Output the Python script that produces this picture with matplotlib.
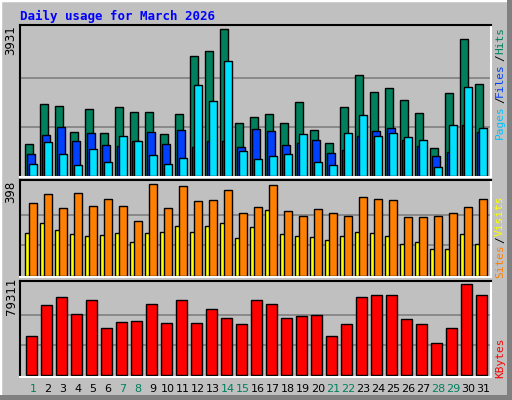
import matplotlib
matplotlib.use("Agg")
import matplotlib.pyplot as plt
from matplotlib.patches import Rectangle
import numpy as np

days = list(range(1, 32))
weekend = [1, 7, 8, 14, 15, 21, 22, 28, 29]
hits = [856,1925,1872,1177,1792,1150,1845,1711,1711,1123,1658,3209,3343,3931,1417,1586,1658,1417,1979,1230,882,1845,2701,2246,2353,2032,1685,749,2219,3663,2460]
files = [588,1096,1310,936,1150,829,802,936,1177,856,1230,775,936,936,775,1257,1203,829,882,963,615,695,1070,1203,1284,963,802,535,642,1364,1177]
pages = [321,909,588,294,722,374,1070,936,562,321,481,2433,2006,3075,669,455,535,588,1123,374,294,1150,1631,1070,1150,1043,963,241,1364,2380,1284]
visits = [316,355,294,359,302,333,302,237,398,294,389,324,329,372,272,298,394,281,259,289,272,259,342,333,329,255,255,259,272,298,333]
sites = [185,229,198,181,172,177,185,146,185,190,216,190,216,229,164,211,285,181,172,168,155,172,190,185,172,138,146,116,116,181,138]
kbytes = [33989,61005,67977,53162,65363,40961,46190,47061,61877,45318,65363,45318,57519,49676,44447,65363,61877,49676,51419,52290,33989,44447,67977,69720,69720,48804,44447,27888,40961,79311,69720]

BG = "#C0C0C0"
W, H = 512, 400
fig = plt.figure(figsize=(5.12, 4.0), dpi=100, facecolor=BG)

def px_axes(l, t, r, b):
    return fig.add_axes([l / W, 1 - b / H, (r - l) / W, (b - t) / H])

# outer bevel
fig.patches.append(Rectangle((0, 0), 1, 1, transform=fig.transFigure, fill=False, ec="white", lw=2.5))
fig.patches.append(Rectangle((W - 4) / W, 0, 4 / W, 1, transform=fig.transFigure, fc="#808080", ec="none") if False else Rectangle(((W - 5) / W, 0), 5 / W, 1, transform=fig.transFigure, fc="#808080", ec="none"))
fig.patches.append(Rectangle((0, 0), 1, 5 / H, transform=fig.transFigure, fc="#808080", ec="none"))

x = np.array(days)
bw = 8 / 15
xl = (0.153, 31.51)

def style(ax, ylim, mx):
    ax.set_facecolor(BG)
    ax.set_xlim(*xl)
    ax.set_ylim(*ylim)
    for f in (1 / 3, 2 / 3):
        ax.axhline(mx * f, color="#808080", lw=1.2, zorder=0)
    ax.set_xticks([]); ax.set_yticks([])
    for s in ("top", "left"):
        ax.spines[s].set_color("black"); ax.spines[s].set_linewidth(1.5)
    for s in ("bottom", "right"):
        ax.spines[s].set_color("white"); ax.spines[s].set_linewidth(1.5)

kw = dict(edgecolor="black", linewidth=1.0, align="edge", zorder=2)

ax1 = px_axes(20.3, 25, 490.7, 177)
style(ax1, (-27, 4038), max(hits))
ax1.bar(x - 0.53, hits, bw, color="#00805C", **kw)
ax1.bar(x - 0.40, files, bw, color="#0040FF", **kw)
ax1.bar(x - 0.27, pages, bw, color="#00E0FF", **kw)

ax2 = px_axes(20.3, 180, 490.7, 277)
style(ax2, (-4.3, 417), max(visits))
ax2.bar(x - 0.53, sites, bw, color="#FFFF00", **kw)
ax2.bar(x - 0.25, visits, bw, color="#FF8000", **kw)

ax3 = px_axes(20.3, 281, 490.7, 376.5)
style(ax3, (-1046, 82183), max(kbytes))
ax3.bar(x - 0.46, kbytes, 10.4 / 15, color="#FF0000", **kw)

def ft(xp, yp, s, **k):
    fig.text(xp / W, 1 - yp / H, s, **k)

ft(20, 16, "Daily usage for March 2026", color="#0000FF", family="DejaVu Sans Mono",
   weight="bold", fontsize=9, va="center", ha="left")

ft(11, 40, str(max(hits)), rotation=90, fontsize=8.5, ha="center", va="center")
ft(11, 192, str(max(visits)), rotation=90, fontsize=8.5, ha="center", va="center")
ft(11, 296, str(max(kbytes)), rotation=90, fontsize=8.5, ha="center", va="center")

rk = dict(rotation=90, fontsize=8, family="DejaVu Sans Mono", ha="center", va="center")
ft(500, 122, "Pages", color="#00C0FF", **rk)
ft(500, 100, "/", color="black", **rk)
ft(500, 80, "Files", color="#0040FF", **rk)
ft(500, 58, "/", color="black", **rk)
ft(500, 41, "Hits", color="#00805C", **rk)
ft(500, 261, "Sites", color="#FF8000", **rk)
ft(500, 240, "/", color="black", **rk)
ft(500, 216, "Visits", color="#FFFF00", **rk)
ft(500, 358, "KBytes", color="#FF0000", **rk)

for d in days:
    ft(33 + 15 * (d - 1), 389, str(d), color="#00805C" if d in weekend else "black",
       fontsize=8, ha="center", va="center")

fig.savefig("out.png", dpi=100, facecolor=BG)
